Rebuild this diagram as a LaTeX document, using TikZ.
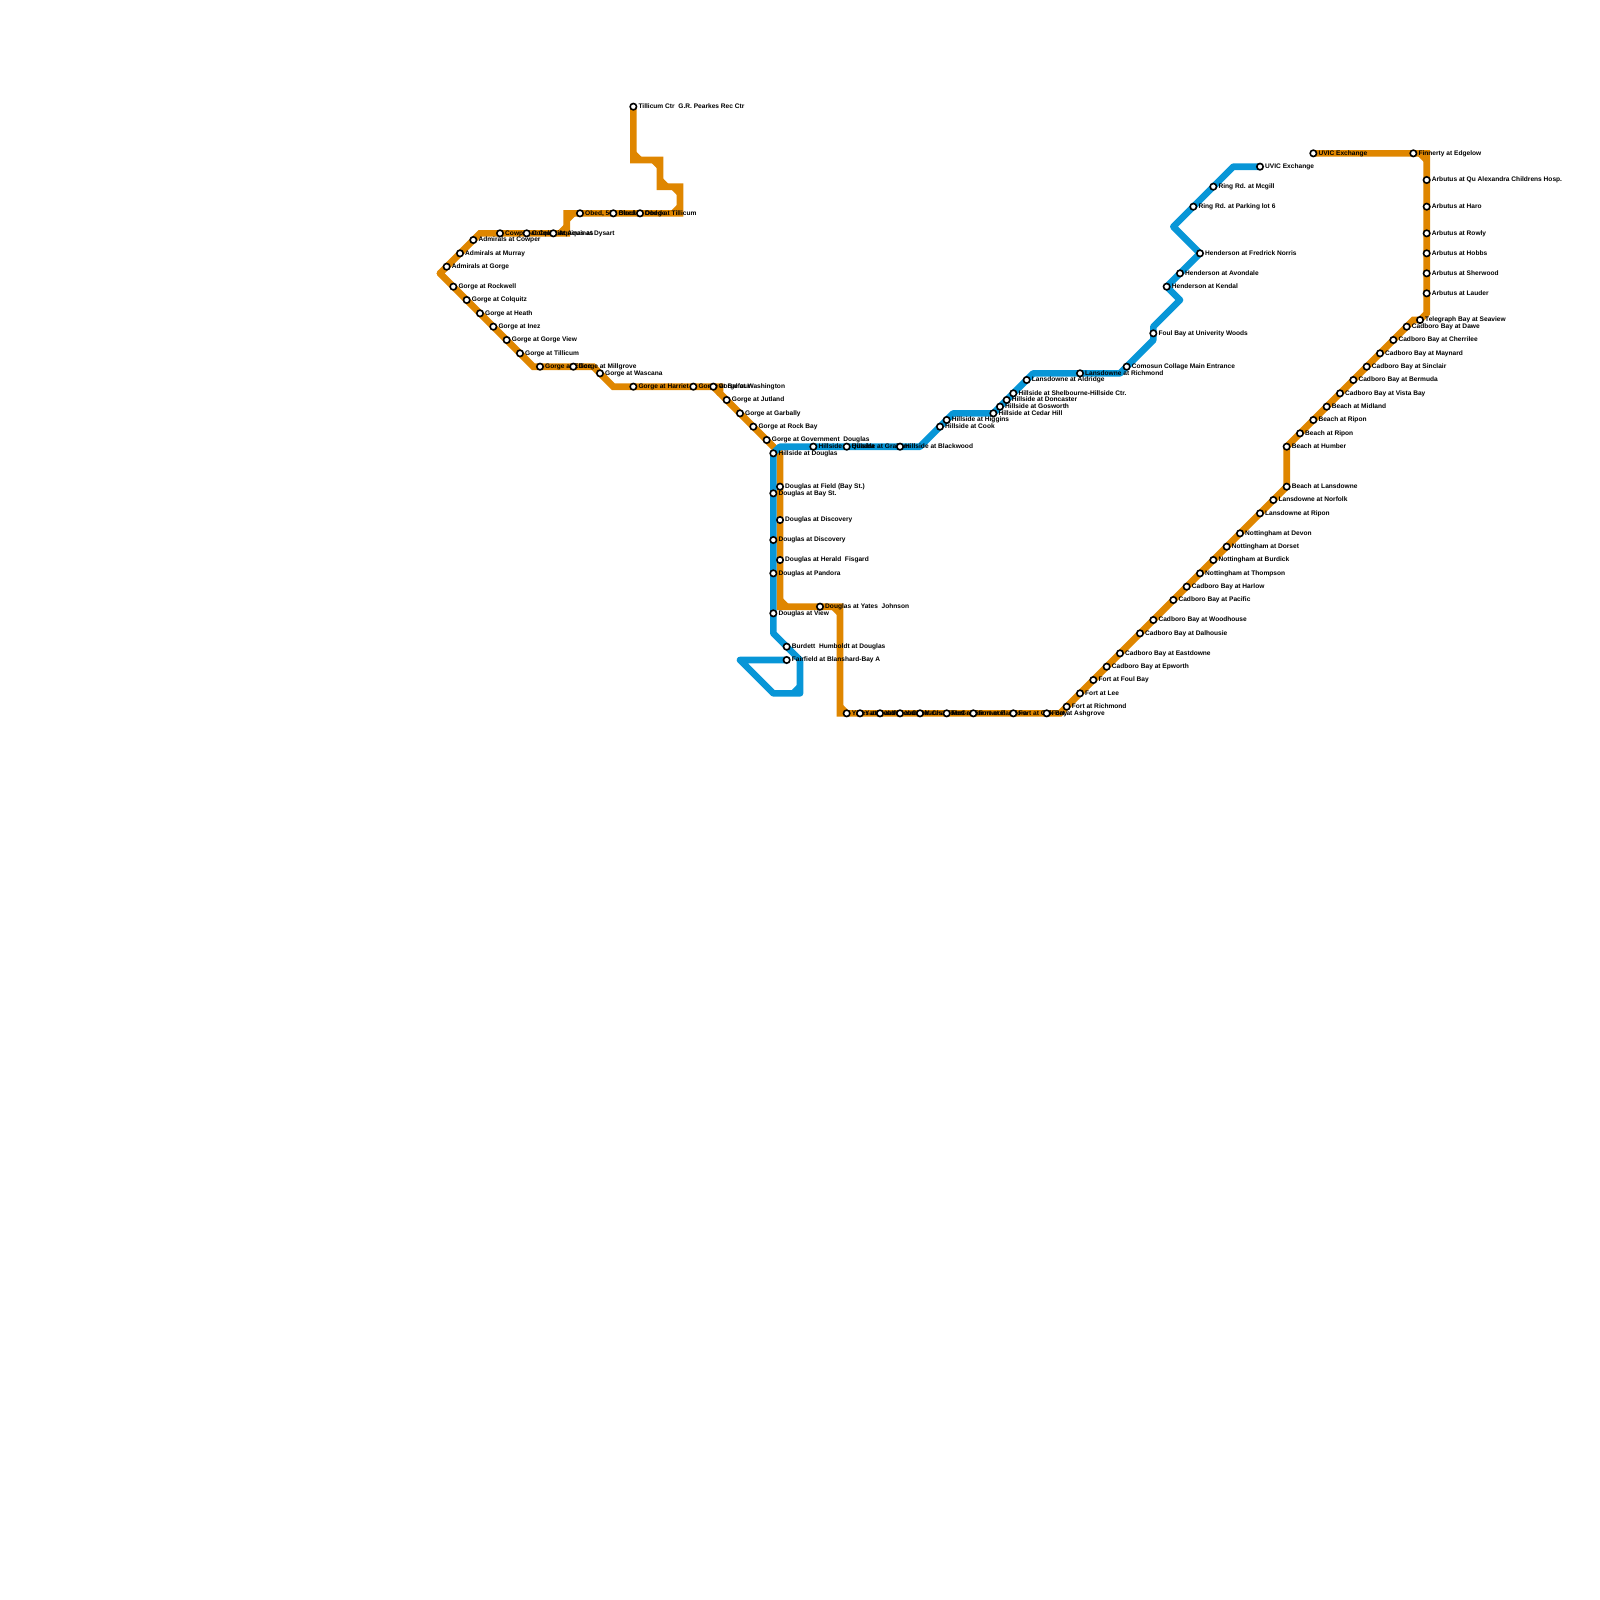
\documentclass[tikz,border=0pt]{standalone}
\usepackage{fontspec}
\setmainfont{Liberation Sans}
\usepackage{xcolor}
\usepackage{tikz}
\usetikzlibrary{positioning,backgrounds}
\definecolor{metroorange}{HTML}{DF8600}
\definecolor{metroblue}{HTML}{0896D7}
\begin{document}
\begin{tikzpicture}[
  x=6.6667pt, y=-6.6667pt,
  stop/.style={circle, draw=black, fill=white, line width=1.6pt, minimum size=6.4pt, inner sep=0pt},
  stoplabel/.style={font=\fontsize{6.6pt}{7pt}\selectfont\bfseries, text=black, inner sep=0pt, text height=4.8pt, text depth=1.4pt},
  metroline/.style={line width=6.6667pt, line cap=round},
  orangeline/.style={metroline, metroorange},
  blueline/.style={metroline, metroblue, line join=round},
  notch/.style={line width=6.6667pt, line cap=butt},
]
\useasboundingbox (0,0) rectangle (240,240);

% ---------------- bends of the orange line
\foreach \i/\x/\y in {k1/95/24, k2/99/24, k3/99/28, k4/102/28, k5/102/32, k6/85/32, k7/85/35,
  k8/72/35, k9/66/41, k10/80/55, k11/89/55, k12/92/58, k13/108/58, k14/108/59, k15/116/67,
  k16/117/68, k17/117/91, k18/126/91, k19/126/107, k20/159/107, k21/193/73, k22/193/67,
  k23/212/48, k24/213/48, k25/214/47, k26/214/23}
  \coordinate (\i) at (\x,\y);

% ---------------- bends of the blue line
\foreach \i/\x/\y in {m1/185/25, m2/176/34, m3/177/45, m4/173/49, m5/173/51, m6/168/56,
  m7/155/56, m8/149/62, m9/143/62, m10/138/67, m11/117/67, m12/116/95, m13/120/99,
  m14/120/104, m15/116/104, m16/111/99}
  \coordinate (\i) at (\x,\y);

% ---------------- stops and their labels
\foreach \i/\x/\y/\t in {
  o1/95/16/{Tillicum Ctr\ \ G.R. Pearkes Rec Ctr},
  o2/87/32/{Obed, 500 Block}, o3/92/32/{Obed at Dodge}, o4/96/32/{Obed at Tillicum},
  o5/75/35/{Cowper at Colquitz}, o6/79/35/{Colquitz at Aquinas}, o7/83/35/{Aquinas at Dysart},
  o8/71/36/{Admirals at Cowper}, o9/69/38/{Admirals at Murray}, o10/67/40/{Admirals at Gorge},
  o11/68/43/{Gorge at Rockwell}, o12/70/45/{Gorge at Colquitz}, o13/72/47/{Gorge at Heath},
  o14/74/49/{Gorge at Inez}, o15/76/51/{Gorge at Gorge View}, o16/78/53/{Gorge at Tillicum},
  o17/81/55/{Gorge at Ellice}, o18/86/55/{Gorge at Millgrove}, o19/90/56/{Gorge at Wascana},
  o20/95/58/{Gorge at Harriet}, o21/104/58/{Gorge at Balfour}, o22/107/58/{Gorge at Washington},
  o23/109/60/{Gorge at Jutland}, o24/111/62/{Gorge at Garbally}, o25/113/64/{Gorge at Rock Bay},
  o26/115/66/{Gorge at Government\ \ Douglas},
  o27/117/73/{Douglas at Field (Bay St.)}, o28/117/78/{Douglas at Discovery},
  o29/117/84/{Douglas at Herald\ \ Fisgard}, o30/123/91/{Douglas at Yates\ \ Johnson},
  o31/127/107/{Yates at Quadra}, o32/129/107/{Yates at Vancouver}, o33/132/107/{Yates at Cook},
  o34/135/107/{Yates at Chambers}, o35/138/107/{Yates at McGregor}, o36/142/107/{Fort at Fernwood},
  o37/146/107/{Fort at Pandora}, o38/152/107/{Fort at Oak Bay}, o39/157/107/{Fort at Ashgrove},
  o40/160/106/{Fort at Richmond}, o41/162/104/{Fort at Lee}, o42/164/102/{Fort at Foul Bay},
  o43/166/100/{Cadboro Bay at Epworth}, o44/168/98/{Cadboro Bay at Eastdowne},
  o45/171/95/{Cadboro Bay at Dalhousie}, o46/173/93/{Cadboro Bay at Woodhouse},
  o47/176/90/{Cadboro Bay at Pacific}, o48/178/88/{Cadboro Bay at Harlow},
  o49/180/86/{Nottingham at Thompson}, o50/182/84/{Nottingham at Burdick},
  o51/184/82/{Nottingham at Dorset}, o52/186/80/{Nottingham at Devon},
  o53/189/77/{Lansdowne at Ripon}, o54/191/75/{Lansdowne at Norfolk},
  o55/193/73/{Beach at Lansdowne}, o56/193/67/{Beach at Humber},
  o57/195/65/{Beach at Ripon}, o58/197/63/{Beach at Ripon}, o59/199/61/{Beach at Midland},
  o60/201/59/{Cadboro Bay at Vista Bay}, o61/203/57/{Cadboro Bay at Bermuda},
  o62/205/55/{Cadboro Bay at Sinclair}, o63/207/53/{Cadboro Bay at Maynard},
  o64/209/51/{Cadboro Bay at Cherrilee}, o65/211/49/{Cadboro Bay at Dawe},
  o66/213/48/{Telegraph Bay at Seaview}, o67/214/44/{Arbutus at Lauder},
  o68/214/41/{Arbutus at Sherwood}, o69/214/38/{Arbutus at Hobbs}, o70/214/35/{Arbutus at Rowly},
  o71/214/31/{Arbutus at Haro}, o72/214/27/{Arbutus at Qu Alexandra Childrens Hosp.},
  o73/197/23/{UVIC Exchange}, o74/212/23/{Finnerty at Edgelow},
  b1/116/68/{Hillside at Douglas}, b2/116/74/{Douglas at Bay St.}, b3/116/81/{Douglas at Discovery},
  b4/116/86/{Douglas at Pandora}, b5/116/92/{Douglas at View},
  b6/118/97/{Burdett\ \ Humboldt at Douglas}, b7/118/99/{Fairfield at Blanshard-Bay A},
  b8/122/67/{Hillside at Quadra}, b9/127/67/{Hillside at Graham}, b10/135/67/{Hillside at Blackwood},
  b11/141/64/{Hillside at Cook}, b12/142/63/{Hillside at Higgins}, b13/149/62/{Hillside at Cedar Hill},
  b14/150/61/{Hillside at Gosworth}, b15/151/60/{Hillside at Doncaster},
  b16/152/59/{Hillside at Shelbourne-Hillside Ctr.}, b17/154/57/{Lansdowne at Aldridge},
  b18/162/56/{Lansdowne at Richmond}, b19/169/55/{Comosun Collage Main Entrance},
  b20/173/50/{Foul Bay at Univerity Woods}, b21/175/43/{Henderson at Kendal},
  b22/177/41/{Henderson at Avondale}, b23/180/38/{Henderson at Fredrick Norris},
  b24/179/31/{Ring Rd. at Parking lot 6}, b25/182/28/{Ring Rd. at Mcgill}, b26/189/25/{UVIC Exchange}}
{
  \node[stop] (\i) at (\x,\y) {};
  \node[stoplabel, right=1pt of \i] (\i-t) {\t};
}

% ---------------- the lines, under the stops
\begin{scope}[on background layer]
  \draw[orangeline] (o1.center) -- (k1) -- (k2) -- (k3) -- (k4) -- (k5)
    \foreach \i in {4,3,2} { -- (o\i.center) } -- (k6) -- (k7)
    \foreach \i in {7,6,5} { -- (o\i.center) } -- (k8)
    \foreach \i in {8,9,10} { -- (o\i.center) } -- (k9);
  \draw[orangeline] (k9)
    \foreach \i in {11,...,16} { -- (o\i.center) } -- (k10)
    \foreach \i in {17,18} { -- (o\i.center) } -- (k11) -- (o19.center) -- (k12)
    \foreach \i in {20,21,22} { -- (o\i.center) } -- (k13) -- (k14)
    \foreach \i in {23,...,26} { -- (o\i.center) } -- (k15) -- (k16)
    \foreach \i in {27,28,29} { -- (o\i.center) } -- (k17) -- (o30.center) -- (k18) -- (k19)
    \foreach \i in {31,...,39} { -- (o\i.center) } -- (k20)
    \foreach \i in {40,...,56} { -- (o\i.center) }
    \foreach \i in {57,...,65} { -- (o\i.center) } -- (k23) -- (o66.center) -- (k25)
    \foreach \i in {67,...,72} { -- (o\i.center) } -- (k26) -- (o74.center) -- (o73.center);
  % inner corners are cut off, the outer ones stay square
  \foreach \c/\ax/\ay/\bx/\by/\col in {k1/0/-1/1/0/metroorange, k2/-1/0/0/1/metroorange,
    k3/0/-1/1/0/metroorange, k4/-1/0/0/1/metroorange, k5/0/-1/-1/0/metroorange,
    k6/1/0/0/1/metroorange, k7/0/-1/-1/0/metroorange, k13/-1/0/0/1/metroorange,
    k17/0/-1/1/0/metroorange, k18/-1/0/0/1/metroorange, k19/0/-1/1/0/metroorange,
    k26/-1/0/0/1/metroorange, m14/0/-1/-1/0/metroblue}
    \draw[notch, \col] ([shift={(\ax,\ay)}]\c) -- ([shift={(\bx,\by)}]\c);
  \draw[blueline] (b26.center) -- (m1)
    \foreach \i in {25,24} { -- (b\i.center) } -- (m2)
    \foreach \i in {23,22,21} { -- (b\i.center) } -- (m3) -- (m4) -- (b20.center) -- (m5) -- (b19.center) -- (m6)
    -- (b18.center) -- (m7) \foreach \i in {17,16,15,14,13} { -- (b\i.center) } -- (m9)
    \foreach \i in {12,11} { -- (b\i.center) } -- (m10)
    \foreach \i in {10,9,8} { -- (b\i.center) } -- (m11)
    \foreach \i in {1,2,3,4,5} { -- (b\i.center) } -- (m12) -- (b6.center) -- (m13) -- (m14) -- (m15) -- (m16) -- (b7.center);
\end{scope}
\end{tikzpicture}
\end{document}
